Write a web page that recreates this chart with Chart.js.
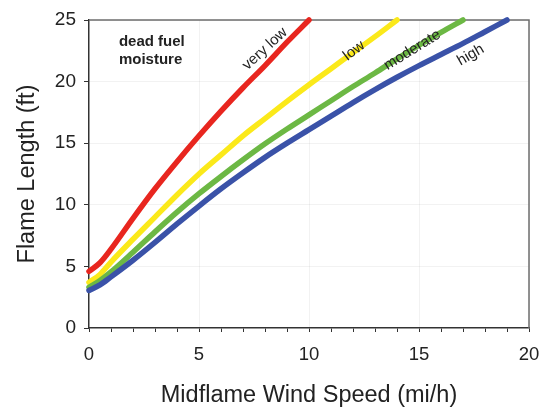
<!DOCTYPE html>
<html>
<head>
<meta charset="utf-8">
<script src="https://cdn.jsdelivr.net/npm/chart.js@4.4.0/dist/chart.umd.min.js"></script>
<style>
    html, body { margin: 0; padding: 0; background: #fff; }
    #wrap { width: 544px; height: 407px; }
</style>
</head>
<body>
<div id="wrap"><canvas id="flame"></canvas></div>
<script>
// midflame wind speed (mi/h)
const windSpeed = [0, 0.5, 1, 2, 3, 4, 5, 6, 7, 8, 9, 10, 11, 12, 13, 14, 15, 16, 17, 18, 19]

// flame length (ft) per dead fuel moisture class
const veryLow = [4.6, 5.3, 6.4, 8.9, 11.3, 13.5, 15.6, 17.6, 19.5, 21.3, 23.2, 25.0]
const low = [3.7, 4.35, 5.35, 7.2, 9.0, 10.8, 12.5, 14.05, 15.6, 17.0, 18.4, 19.75, 21.05, 22.35, 23.65, 25.0]
const moderate = [3.3, 3.85, 4.55, 6.15, 7.8, 9.4, 10.9, 12.3, 13.65, 14.95, 16.15, 17.3, 18.45, 19.6, 20.7, 21.85, 22.95, 24.0, 25.0]
const high = [3.05, 3.5, 4.15, 5.5, 6.95, 8.45, 9.9, 11.3, 12.6, 13.85, 15.0, 16.1, 17.2, 18.3, 19.35, 20.35, 21.3, 22.2, 23.1, 24.05, 25.0]

const seriesNames = ['very low', 'low', 'moderate', 'high']
const seriesColors = ['#e8261f', '#fbe91a', '#6cb844', '#3a52a8']

// label anchor (data units) and angle for each curve name
const labelX = [8.0, 12.05, 14.7, 17.35]
const labelY = [22.65, 22.5, 22.56, 22.16]
const labelAngle = [-42.6, -37, -31.7, -30]

const xTicks = [0, 5, 10, 15, 20]
const yTicks = [0, 5, 10, 15, 20, 25]

const fontFamily = '"Liberation Sans", Arial, Helvetica, sans-serif'

function toPoints(values) {
    return values.map((v, i) => ({ x: windSpeed[i], y: v }))
}

const curveLabels = {
    id: 'curveLabels',
    afterDatasetsDraw(chart) {
        const ctx = chart.ctx
        const xs = chart.scales.x
        const ys = chart.scales.y
        ctx.save()
        ctx.fillStyle = '#222'
        ctx.font = '15px ' + fontFamily
        ctx.textAlign = 'center'
        ctx.textBaseline = 'middle'
        seriesNames.forEach((name, i) => {
            ctx.save()
            ctx.translate(xs.getPixelForValue(labelX[i]), ys.getPixelForValue(labelY[i]))
            ctx.rotate(labelAngle[i] * Math.PI / 180)
            ctx.fillText(name, 0, 0)
            ctx.restore()
        })
        // legend title
        ctx.font = 'bold 15px ' + fontFamily
        ctx.textAlign = 'left'
        const lx = xs.getPixelForValue(1.36)
        const ly = ys.getPixelForValue(23.2)
        ctx.fillText('dead fuel', lx, ly)
        ctx.fillText('moisture', lx, ly + 18)
        ctx.restore()
    }
}

const frame = {
    id: 'frame',
    beforeDatasetsDraw(chart) {
        const { left, right, top, bottom } = chart.chartArea
        const ctx = chart.ctx
        ctx.save()
        ctx.strokeStyle = '#6d6d6d'
        ctx.lineWidth = 1.5
        ctx.beginPath()
        ctx.moveTo(left, top)
        ctx.lineTo(right, top)
        ctx.lineTo(right, bottom)
        ctx.stroke()
        ctx.restore()
    }
}

const faintGrid = (c) => {
    const v = c.tick ? c.tick.value : null
    if (v === null || v % 5 !== 0 || v === 0) return 'rgba(0,0,0,0)'
    return 'rgba(0,0,0,0.05)'
}

const ctx = document.getElementById('flame')
const chart = new Chart(ctx, {
    type: 'line',
    data: {
        datasets: [veryLow, low, moderate, high].map((values, i) => ({
            label: seriesNames[i],
            data: toPoints(values),
            borderColor: seriesColors[i],
            backgroundColor: seriesColors[i],
            borderWidth: 5.5,
            borderCapStyle: 'round',
            borderJoinStyle: 'round',
            pointRadius: 0,
            cubicInterpolationMode: 'monotone',
            clip: false
        })).reverse()
    },
    options: {
        responsive: true,
        maintainAspectRatio: false,
        animation: false,
        events: [],
        layout: {
            padding: { top: 20, right: 15, left: 0, bottom: 0 }
        },
        plugins: {
            legend: { display: false },
            tooltip: { enabled: false }
        },
        scales: {
            x: {
                type: 'linear',
                min: 0,
                max: 20,
                afterFit: (s) => {
                    s.height = 79
                    s.paddingLeft = 0
                    s.paddingRight = 0
                },
                afterBuildTicks: (s) => {
                    s.ticks = windSpeed.concat([20]).filter((v) => Number.isInteger(v)).map((v) => ({ value: v }))
                },
                border: { color: '#333', width: 1.5 },
                grid: {
                    color: faintGrid,
                    tickColor: '#333',
                    tickLength: 4,
                    tickWidth: 1
                },
                ticks: {
                    autoSkip: false,
                    maxRotation: 0,
                    padding: 12,
                    color: '#222',
                    font: { size: 18.5, family: fontFamily },
                    callback: (v) => (xTicks.includes(v) ? v : '')
                },
                title: {
                    display: true,
                    text: 'Midflame Wind Speed (mi/h)',
                    color: '#222',
                    font: { size: 23.5, family: fontFamily },
                    padding: { top: 0, bottom: -3 }
                }
            },
            y: {
                min: 0,
                max: 25,
                afterFit: (s) => {
                    s.width = 89
                    s.paddingTop = 0
                    s.paddingBottom = 0
                },
                afterBuildTicks: (s) => {
                    s.ticks = yTicks.map((v) => ({ value: v }))
                },
                border: { color: '#333', width: 1.5 },
                grid: {
                    color: faintGrid,
                    tickColor: '#333',
                    tickLength: 5,
                    tickWidth: 1
                },
                ticks: {
                    padding: 8,
                    color: '#222',
                    font: { size: 19, family: fontFamily }
                },
                title: {
                    display: true,
                    text: 'Flame Length (ft)',
                    color: '#222',
                    font: { size: 23.5, family: fontFamily },
                    padding: { top: 13, bottom: 0 }
                }
            }
        }
    },
    plugins: [frame, curveLabels]
})
</script>
</body>
</html>
